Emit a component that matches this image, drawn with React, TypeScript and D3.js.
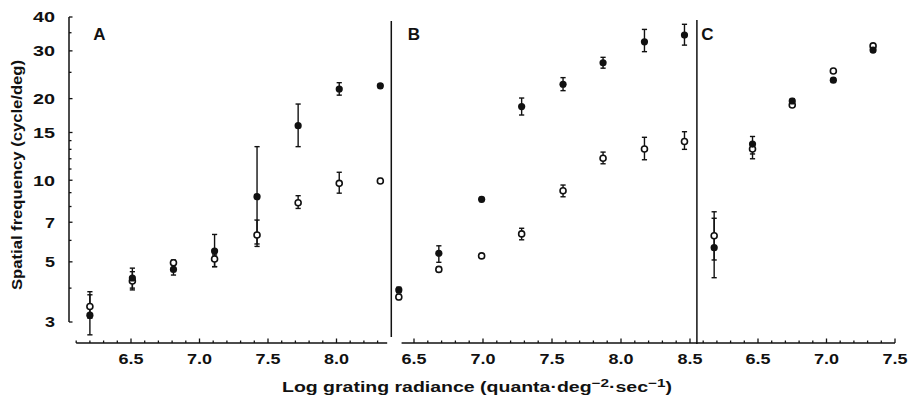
import React from "react";
import * as d3 from "d3";

// ---------- data ----------
const aX = [6.2, 6.51, 6.81, 7.11, 7.42, 7.72, 8.02, 8.32];
const aFilled = [3.18, 4.36, 4.69, 5.48, 8.7, 15.9, 21.7, 22.3];
const aFilledLo = [2.69, 3.94, 4.47, 4.8, 5.7, 13.3, 20.6, 21.9];
const aFilledHi = [3.88, 4.74, 4.9, 6.31, 13.3, 19.1, 22.9, 22.7];
const aOpen = [3.42, 4.25, 4.96, 5.12, 6.28, 8.26, 9.74, 9.94];
const aOpenLo = [3.1, 4.0, 4.85, 4.8, 5.82, 7.87, 8.96, 9.75];
const aOpenHi = [3.78, 4.6, 5.08, 5.3, 7.13, 8.77, 10.7, 10.15];

const bX = [6.39, 6.68, 6.99, 7.28, 7.58, 7.87, 8.17, 8.46];
const bFilled = [3.94, 5.38, 8.5, 18.7, 22.6, 27.1, 32.4, 34.3];
const bFilledLo = [3.85, 4.98, 8.35, 17.4, 21.4, 25.9, 29.8, 31.5];
const bFilledHi = [4.03, 5.73, 8.65, 20.1, 23.9, 28.4, 36.0, 37.6];
const bOpen = [3.71, 4.69, 5.26, 6.34, 9.15, 12.05, 13.04, 13.9];
const bOpenLo = [3.63, 4.6, 5.16, 6.03, 8.69, 11.5, 11.9, 13.0];
const bOpenHi = [3.79, 4.78, 5.36, 6.65, 9.6, 12.7, 14.4, 15.1];

const cX = [6.18, 6.46, 6.75, 7.05, 7.34];
const cFilled = [5.64, 13.6, 19.6, 23.4, 30.2];
const cFilledLo = [4.37, 12.0, 19.2, 23.0, 29.7];
const cFilledHi = [7.65, 14.5, 20.0, 23.8, 30.7];
const cOpen = [6.24, 13.04, 18.95, 25.3, 31.3];
const cOpenLo = [5.08, 12.5, 18.6, 24.8, 30.8];
const cOpenHi = [7.24, 13.6, 19.3, 25.8, 31.8];

const yTickLabels = [3, 5, 7, 10, 15, 20, 30, 40];
const yMinorTicks = [3, 4, 5, 6, 7, 8, 9, 10, 11, 12, 13, 14, 15, 20, 25, 30, 35, 40];
const aTickLabels = [6.5, 7.0, 7.5, 8.0];
const bTickLabels = [6.5, 7.0, 7.5, 8.0, 8.5];
const cTickLabels = [6.5, 7.0, 7.5];
const panelLetters = ["A", "B", "C"];

const yTitle = "Spatial frequency (cycle/deg)";

const FONT = "'Liberation Sans', Arial, Helvetica, sans-serif";

const yScale = d3.scaleLog().domain([3, 40]).range([322, 17]);

function makeTicks(lo: number, hi: number): number[] {
  const out: number[] = [];
  for (let i = Math.round(lo * 10); i <= Math.round(hi * 10) + 1e-9; i++) out.push(i / 10);
  return out;
}

type Panel = {
  letter: string;
  x: d3.ScaleLinear<number, number>;
  axisFrom: number;
  axisTo: number;
  tickFrom: number;
  tickTo: number;
  labels: number[];
  xs: number[];
  f: number[]; fLo: number[]; fHi: number[];
  o: number[]; oLo: number[]; oHi: number[];
  letterAt: number;
};

const panels: Panel[] = [
  {
    letter: panelLetters[0],
    x: d3.scaleLinear().domain([6.5, 8.0]).range([131, 336.5]),
    axisFrom: 6.1, axisTo: 8.37, tickFrom: 6.1, tickTo: 8.3,
    labels: aTickLabels, xs: aX,
    f: aFilled, fLo: aFilledLo, fHi: aFilledHi,
    o: aOpen, oLo: aOpenLo, oHi: aOpenHi,
    letterAt: 6.27,
  },
  {
    letter: panelLetters[1],
    x: d3.scaleLinear().domain([6.5, 8.5]).range([414, 690]),
    axisFrom: 6.41, axisTo: 8.55, tickFrom: 6.5, tickTo: 8.5,
    labels: bTickLabels, xs: bX,
    f: bFilled, fLo: bFilledLo, fHi: bFilledHi,
    o: bOpen, oLo: bOpenLo, oHi: bOpenHi,
    letterAt: 6.5,
  },
  {
    letter: panelLetters[2],
    x: d3.scaleLinear().domain([6.5, 7.5]).range([758, 895]),
    axisFrom: 6.05, axisTo: 7.5, tickFrom: 6.1, tickTo: 7.5,
    labels: cTickLabels, xs: cX,
    f: cFilled, fLo: cFilledLo, fHi: cFilledHi,
    o: cOpen, oLo: cOpenLo, oHi: cOpenHi,
    letterAt: 6.13,
  },
];

const AXIS_Y = 343;
const INK = "#111";

function ErrBar({ x, lo, hi }: { x: number; lo: number; hi: number }) {
  const y1 = yScale(lo);
  const y2 = yScale(hi);
  return (
    <g stroke={INK} strokeWidth={1.4}>
      <line x1={x} x2={x} y1={y1} y2={y2} />
      <line x1={x - 2.6} x2={x + 2.6} y1={y1} y2={y1} />
      <line x1={x - 2.6} x2={x + 2.6} y1={y2} y2={y2} />
    </g>
  );
}

export default function App() {
  const fmt = d3.format(".1f");
  return (
    <svg
      width={909}
      height={400}
      viewBox="0 0 909 400"
      style={{ position: "absolute", left: 0, top: 0, background: "#fff" }}
    >
      <rect x={0} y={0} width={909} height={400} fill="#fff" />
      {/* y axis */}
      <line x1={69} x2={69} y1={yScale(40)} y2={yScale(3)} stroke={INK} strokeWidth={1.5} />
      {yMinorTicks.map((t) => (
        <line key={"ym" + t} x1={69} x2={yTickLabels.includes(t) ? 72.5 : 71.5} y1={yScale(t)} y2={yScale(t)} stroke={INK} strokeWidth={1.3} />
      ))}
      {yTickLabels.map((t) => (
        <text
          key={"yl" + t}
          x={55}
          y={yScale(t)}
          dy="0.36em"
          textAnchor="end"
          fontFamily={FONT}
          fontWeight="bold"
          fontSize={15}
          textLength={String(t).length > 1 ? 22 : 10}
          lengthAdjust="spacingAndGlyphs"
          fill={INK}
        >
          {t}
        </text>
      ))}
      <text
        transform={`translate(22,175) rotate(-90)`}
        textAnchor="middle"
        fontFamily={FONT}
        fontWeight="bold"
        fontSize={14}
        textLength={230}
        lengthAdjust="spacingAndGlyphs"
        fill={INK}
      >
        {yTitle}
      </text>

      {/* dividers */}
      <line x1={panels[0].x(8.4)} x2={panels[0].x(8.4)} y1={21} y2={337} stroke={INK} strokeWidth={1.5} />
      <line x1={panels[1].x(8.55)} x2={panels[1].x(8.55)} y1={20} y2={AXIS_Y + 1} stroke={INK} strokeWidth={1.5} />

      {panels.map((p) => {
        const ticks = makeTicks(p.tickFrom, p.tickTo);
        return (
          <g key={p.letter}>
            <line x1={p.x(p.axisFrom)} x2={p.x(p.axisTo)} y1={AXIS_Y} y2={AXIS_Y} stroke={INK} strokeWidth={1.5} />
            {ticks.map((t) => {
              const major = p.labels.some((l) => Math.abs(l - t) < 1e-6);
              return (
                <line key={"t" + t} x1={p.x(t)} x2={p.x(t)} y1={AXIS_Y} y2={AXIS_Y - (major ? 4.5 : 2.5)} stroke={INK} strokeWidth={1.3} />
              );
            })}
            {p.labels.map((l) => (
              <text
                key={"l" + l}
                x={p.x(l)}
                y={364}
                textAnchor="middle"
                fontFamily={FONT}
                fontWeight="bold"
                fontSize={14}
                textLength={25}
                lengthAdjust="spacingAndGlyphs"
                fill={INK}
              >
                {fmt(l)}
              </text>
            ))}
            <text
              x={p.x(p.letterAt)}
              y={39.5}
              textAnchor="middle"
              fontFamily={FONT}
              fontWeight="bold"
              fontSize={17}
              fill={INK}
            >
              {p.letter}
            </text>
            {p.xs.map((v, i) => (
              <g key={"e" + i}>
                <ErrBar x={p.x(v)} lo={p.oLo[i]} hi={p.oHi[i]} />
                <ErrBar x={p.x(v)} lo={p.fLo[i]} hi={p.fHi[i]} />
              </g>
            ))}
            {p.xs.map((v, i) => (
              <circle key={"o" + i} cx={p.x(v)} cy={yScale(p.o[i])} r={3} fill="#fff" stroke={INK} strokeWidth={1.6} />
            ))}
            {p.xs.map((v, i) => (
              <circle key={"f" + i} cx={p.x(v)} cy={yScale(p.f[i])} r={3.6} fill={INK} />
            ))}
          </g>
        );
      })}

      {/* x title */}
      <text
        x={477}
        y={392}
        textAnchor="middle"
        fontFamily={FONT}
        fontWeight="bold"
        fontSize={14}
        textLength={390}
        lengthAdjust="spacingAndGlyphs"
        fill={INK}
      >
        Log grating radiance (quanta·deg
        <tspan dy={-5} fontSize={11}>−2</tspan>
        <tspan dy={5}>·sec</tspan>
        <tspan dy={-5} fontSize={11}>−1</tspan>
        <tspan dy={5}>)</tspan>
      </text>
    </svg>
  );
}
